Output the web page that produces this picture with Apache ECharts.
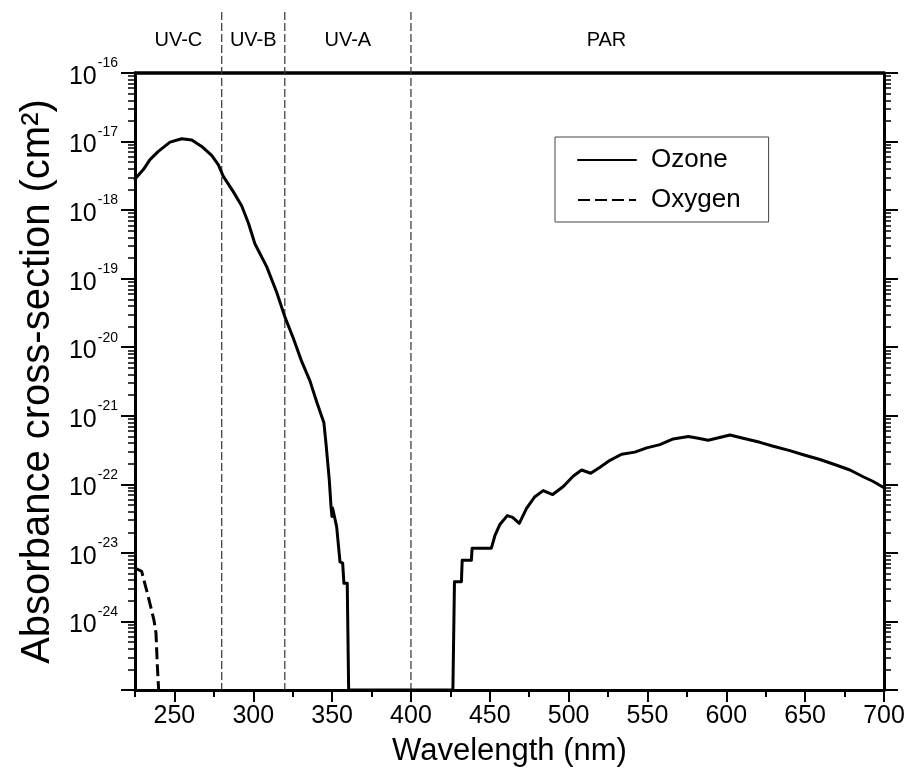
<!DOCTYPE html>
<html>
<head>
<meta charset="utf-8">
<script src="https://cdn.jsdelivr.net/npm/echarts@6/dist/echarts.min.js"></script>
<style>html,body{margin:0;padding:0;background:#fff}#c{width:908px;height:771px}</style>
</head>
<body>
<div id="c"></div>
<script>
// ---------- data ----------
const ozoneNm = [225, 230.3, 234.5, 239.8, 247.2, 254.6, 261, 267.3, 273.6, 277.8, 281, 287.3, 292.7, 296.9, 301.1, 308.5, 314.9, 320.1, 325.4, 330.7, 336, 340.2, 344.8, 346.1, 348.2, 349.3, 349.9, 350.3, 352.9, 355, 356.7, 357.5, 359.6, 360.5,
  426.6, 427.6, 432.0, 432.5, 438.3, 438.8, 451.0, 453.3, 456.4, 461.1, 464.5, 468.7, 473.4, 478.6, 483.9, 489.9, 496.6, 503, 508.2, 514, 519.9, 526.2, 533.6, 542, 549.5, 557.9, 566.3, 575.9, 582.2, 588.5, 593.8, 602.3, 610.7, 621.3, 629.8, 640.3, 648.8, 659.4, 670, 678.4, 686.8, 693.2, 700];
const ozoneCs = [2.85e-18, 3.9e-18, 5.45e-18, 7.2e-18, 9.8e-18, 1.10e-17, 1.05e-17, 8.5e-18, 6.3e-18, 4.6e-18, 3.1e-18, 1.86e-18, 1.15e-18, 6.5e-19, 3.2e-19, 1.5e-19, 6.3e-20, 2.75e-20, 1.35e-20, 6.2e-21, 3.2e-21, 1.6e-21, 7.9e-22, 4.0e-22, 1.17e-22, 4.8e-23, 3.4e-23, 4.5e-23, 2.4e-23, 7.4e-24, 7.1e-24, 3.6e-24, 3.6e-24, 1e-25,
  1e-25, 3.8e-24, 3.8e-24, 7.8e-24, 7.8e-24, 1.17e-23, 1.17e-23, 1.8e-23, 2.6e-23, 3.5e-23, 3.3e-23, 2.7e-23, 4.5e-23, 6.6e-23, 8.1e-23, 7.1e-23, 9.3e-23, 1.32e-22, 1.62e-22, 1.45e-22, 1.78e-22, 2.24e-22, 2.75e-22, 2.95e-22, 3.4e-22, 3.8e-22, 4.6e-22, 5.0e-22, 4.7e-22, 4.4e-22, 4.7e-22, 5.25e-22, 4.7e-22, 4.1e-22, 3.6e-22, 3.1e-22, 2.7e-22, 2.3e-22, 1.9e-22, 1.62e-22, 1.29e-22, 1.10e-22, 8.9e-23];
const oxygenNm = [225, 229.2, 233.4, 237, 238.3, 239.2, 240];
const oxygenCs = [6.0e-24, 5.4e-24, 2.3e-24, 1.05e-24, 6.8e-25, 2.2e-25, 1e-25];

const seriesNames = ['Ozone', 'Oxygen'];
const bandEdges = [280, 320, 400];
const bandNames = ['UV-C', 'UV-B', 'UV-A', 'PAR'];
const bandLabelNm = [252.5, 300, 360, 524];

const xMin = 225, xMax = 700;
const xMajorTicks = [250, 300, 350, 400, 450, 500, 550, 600, 650, 700];
const xMinorTicks = [225, 275, 325, 375, 425, 475, 525, 575, 625, 675];
const yMin = 1e-25, yMax = 1e-16;
const yExponents = [-16, -17, -18, -19, -20, -21, -22, -23, -24, -25];
const yLabelExponents = [-16, -17, -18, -19, -20, -21, -22, -23, -24];
const minorMantissas = [2, 3, 4, 5, 6, 7, 8, 9];

// ---------- build ----------
const pairs = (xs, ys) => xs.map((x, i) => [x, ys[i]]);
const yMajorTicks = yExponents.map(e => Math.pow(10, e));
const yLabelValues = yLabelExponents.map(e => Math.pow(10, e));
const yMinorTicks = [];
yExponents.slice(1).forEach(e => minorMantissas.forEach(m => yMinorTicks.push(m * Math.pow(10, e))));

const FONT = "'Liberation Sans', Arial, Helvetica, sans-serif";
const AXIS_W = 3;

function baseX(extra) {
  return Object.assign({
    type: 'value', min: xMin, max: xMax, gridIndex: 0,
    splitLine: { show: false },
    axisLine: { show: false, onZero: false },
    axisTick: { show: false },
    axisLabel: { show: false }
  }, extra);
}
function baseY(extra) {
  return Object.assign({
    type: 'log', logBase: 10, min: yMin, max: yMax, gridIndex: 0,
    splitLine: { show: false },
    axisLine: { show: false },
    axisTick: { show: false },
    axisLabel: { show: false }
  }, extra);
}

const chart = echarts.init(document.getElementById('c'), null, { renderer: 'canvas' });
chart.setOption({
  backgroundColor: '#ffffff',
  animation: false,
  textStyle: { fontFamily: FONT },
  grid: { left: 135, right: 24, top: 73, bottom: 81, containLabel: false, outerBoundsMode: 'none' },
  legend: {
    data: seriesNames,
    orient: 'vertical',
    left: 555, top: 137,
    padding: [8, 28, 7, 22],
    itemGap: 10,
    itemWidth: 58, itemHeight: 20,
    borderColor: '#444', borderWidth: 1,
    backgroundColor: '#fff',
    itemStyle: { opacity: 0 },
    textStyle: { fontFamily: FONT, fontSize: 26, color: '#000', lineHeight: 30, padding: [0, 0, 0, 10] }
  },
  xAxis: [
    baseX({
      position: 'bottom',
      name: 'Wavelength (nm)', nameLocation: 'middle', nameGap: 46,
      nameTextStyle: { fontFamily: FONT, fontSize: 31, color: '#000' },
      axisLine: { show: true, onZero: false, lineStyle: { color: '#000', width: AXIS_W } },
      axisTick: { show: true, length: 12, lineStyle: { color: '#000', width: 2 }, customValues: xMajorTicks },
      axisLabel: { show: true, margin: 14, fontFamily: FONT, fontSize: 25, color: '#000', customValues: xMajorTicks }
    }),
    baseX({
      position: 'bottom',
      axisTick: { show: true, length: 7, lineStyle: { color: '#000', width: 2 }, customValues: xMinorTicks }
    }),
    baseX({
      position: 'top',
      axisLine: { show: true, onZero: false, lineStyle: { color: '#000', width: AXIS_W + 0.5 } }
    })
  ],
  yAxis: [
    baseY({
      position: 'left',
      name: 'Absorbance cross-section (cm²)', nameLocation: 'middle', nameGap: 77,
      nameTextStyle: { fontFamily: FONT, fontSize: 40, color: '#000' },
      axisLine: { show: true, onZero: false, lineStyle: { color: '#000', width: AXIS_W } },
      axisTick: { show: true, length: 14, lineStyle: { color: '#000', width: 2 }, customValues: yMajorTicks },
      axisLabel: {
        show: true, margin: 17, customValues: yLabelValues,
        formatter: v => '{b|10}{s|' + Math.round(Math.log10(v)) + '}',
        rich: {
          b: { fontFamily: FONT, fontSize: 25, color: '#000', verticalAlign: 'bottom' , padding: [8, 0, 0, 0]},
          s: { fontFamily: FONT, fontSize: 14, color: '#000', verticalAlign: 'top', padding: [0, 0, 10, 1] }
        }
      }
    }),
    baseY({
      position: 'left',
      axisTick: { show: true, length: 7, lineStyle: { color: '#000', width: 1.5 }, customValues: yMinorTicks }
    }),
    baseY({
      position: 'right',
      axisLine: { show: true, onZero: false, lineStyle: { color: '#000', width: AXIS_W } },
      axisTick: { show: true, length: 14, lineStyle: { color: '#000', width: 2 }, customValues: yMajorTicks }
    }),
    baseY({
      position: 'right',
      axisTick: { show: true, length: 7, lineStyle: { color: '#000', width: 1.5 }, customValues: yMinorTicks }
    })
  ],
  series: [
    {
      name: 'Ozone', type: 'line', xAxisIndex: 0, yAxisIndex: 0,
      data: pairs(ozoneNm, ozoneCs), symbol: 'none', smooth: false,
      lineStyle: { color: '#000', width: 3, type: 'solid', join: 'round', cap: 'round' },
      itemStyle: { color: '#000' }, z: 5
    },
    {
      name: 'Oxygen', type: 'line', xAxisIndex: 0, yAxisIndex: 0,
      data: pairs(oxygenNm, oxygenCs), symbol: 'none', smooth: false,
      lineStyle: { color: '#000', width: 3, type: [12, 5] },
      itemStyle: { color: '#000' }, z: 5
    },
    {
      type: 'custom', xAxisIndex: 0, yAxisIndex: 0, silent: true, clip: false, z: 3,
      data: bandEdges.map(v => [v, yMax]),
      renderItem: (params, api) => {
        const cs = params.coordSys;
        const x = api.coord([api.value(0), yMax])[0];
        return {
          type: 'line',
          shape: { x1: x, y1: cs.y - 61, x2: x, y2: cs.y + cs.height },
          style: { stroke: '#333', lineWidth: 1.2, lineDash: [8, 3] }
        };
      }
    },
    {
      type: 'custom', xAxisIndex: 0, yAxisIndex: 0, silent: true, clip: false, z: 3,
      data: bandLabelNm.map(v => [v, yMax]),
      renderItem: (params, api) => {
        const cs = params.coordSys;
        const x = api.coord([api.value(0), yMax])[0];
        return {
          type: 'text', x: x, y: cs.y - 33,
          style: { text: bandNames[params.dataIndex], fill: '#000', font: '20px ' + FONT, textAlign: 'center', textVerticalAlign: 'middle' }
        };
      }
    }
  ]
});
</script>
</body>
</html>
